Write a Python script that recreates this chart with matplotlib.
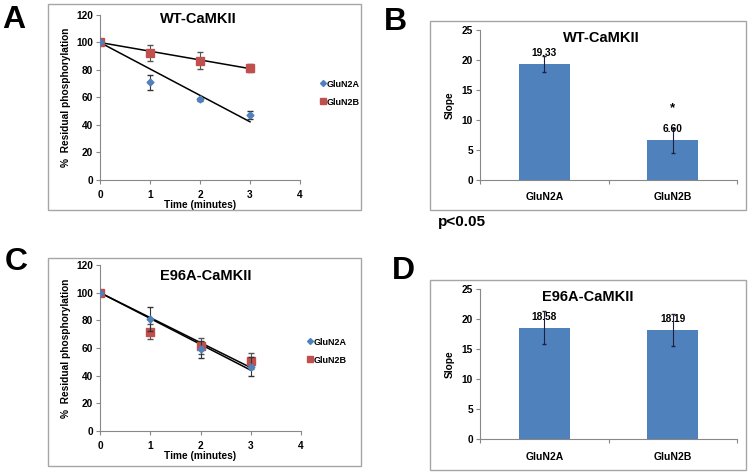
import matplotlib
matplotlib.use('Agg')
import matplotlib.pyplot as plt
import numpy as np
from matplotlib.patches import Rectangle
from matplotlib.lines import Line2D

plt.rcParams['font.family'] = ['Liberation Sans', 'DejaVu Sans']
plt.rcParams['font.weight'] = 'bold'

# %% data
time = [0, 1, 2, 3]
series = ['GluN2A', 'GluN2B']

# WT-CaMKII residual phosphorylation (%)
wt_2a = [100, 71, 58.7, 47.5]
wt_2a_err = [0, 5.5, 1, 3]
wt_2b = [100, 92.6, 86.8, 81.7]
wt_2b_err = [0, 5.8, 6.3, 3]

# E96A-CaMKII residual phosphorylation (%)
e96_2a = [100, 81, 59, 46.5]
e96_2a_err = [0, 8.5, 6, 6.7]
e96_2b = [100, 71.8, 61.5, 50.8]
e96_2b_err = [0, 5.5, 5.5, 5.8]

# slopes
wt_slope = [19.33, 6.60]
wt_slope_err = [1.3, 2.1]
e96_slope = [18.58, 18.19]
e96_slope_err = [2.8, 2.7]

blue = '#4F81BD'
red = '#C0504D'
W, H = 750, 473

fig = plt.figure(figsize=(7.5, 4.73), dpi=100)


def px_axes(l, t, r, b):
    return fig.add_axes([l / W, 1 - b / H, (r - l) / W, (b - t) / H])


def frame(l, t, r, b):
    fig.patches.append(Rectangle((l / W, 1 - b / H), (r - l) / W, (b - t) / H,
                                 transform=fig.transFigure, fill=False,
                                 edgecolor='#a6a6a6', linewidth=1.0, zorder=0))


def style_axes(ax):
    for s in ['top', 'right']:
        ax.spines[s].set_visible(False)
    for s in ['left', 'bottom']:
        ax.spines[s].set_color('#888888')
        ax.spines[s].set_linewidth(0.8)
    ax.tick_params(which='both', color='#888888', length=3, width=0.8,
                   labelsize=7.3, pad=2)
    for lab in ax.get_xticklabels() + ax.get_yticklabels():
        lab.set_fontweight('bold')


def line_panel(ax, a, a_err, b, b_err, title_xy, title, legend_xy):
    t = np.array(time)
    for y in [a, b]:
        # linear trend with intercept fixed at 100
        k = np.sum(t * (np.array(y) - 100)) / np.sum(t * t)
        ax.plot(t, 100 + k * t, color='black', linewidth=1.1, zorder=2)
    ax.errorbar(time, b, yerr=b_err, fmt='s', color=red, ms=5.5,
                ecolor='#555555', elinewidth=0.8, capsize=2, zorder=3)
    ax.errorbar(time, a, yerr=a_err, fmt='D', color=blue, ms=3.5,
                ecolor='#333333', elinewidth=0.8, capsize=2, zorder=4)
    ax.set_xlim(0, 4)
    ax.set_ylim(0, 120)
    ax.set_xticks([0, 1, 2, 3, 4])
    ax.set_yticks(range(0, 121, 20))
    ax.tick_params(axis='x', direction='out')
    ax.set_xlabel('Time (minutes)', fontsize=7.3, fontweight='bold', labelpad=0)
    ax.set_ylabel('%  Residual phosphorylation', fontsize=7.3,
                  fontweight='bold', labelpad=4)
    style_axes(ax)
    ax.tick_params(axis='x', pad=4)
    fig.text(title_xy[0] / W, 1 - title_xy[1] / H, title, fontsize=10.5,
             fontweight='bold', ha='center', va='center')
    handles = [Line2D([], [], marker='D', color=blue, ls='none', ms=3),
               Line2D([], [], marker='s', color=red, ls='none', ms=5)]
    fig.legend(handles, series, loc='upper left', frameon=False,
               bbox_to_anchor=(legend_xy[0] / W, 1 - legend_xy[1] / H),
               prop={'size': 6.5, 'weight': 'bold'}, handlelength=0.6,
               handletextpad=0.1, labelspacing=1.0, borderpad=0)


def bar_panel(ax, vals, errs, title_xy, title, star=False):
    x = np.arange(len(series))
    ax.bar(x, vals, width=0.4, color=blue, zorder=2)
    ax.errorbar(x, vals, yerr=errs, fmt='none', ecolor='#1f1f3f',
                elinewidth=0.8, capsize=1.5, zorder=3)
    for xi, v, e in zip(x, vals, errs):
        ax.text(xi, v + 1.0, f'{v:.2f}', ha='center', va='bottom',
                fontsize=7.3, fontweight='bold')
    if star:
        ax.text(x[1], 11.0, '*', ha='center', va='bottom', fontsize=9.5,
                fontweight='bold')
    ax.set_xlim(-0.5, 1.5)
    ax.set_ylim(0, 25)
    ax.set_yticks(range(0, 26, 5))
    ax.set_xticks(x)
    ax.set_xticklabels(series)
    ax.set_xticks([-0.5, 0.5, 1.5], minor=True)
    ax.set_ylabel('Slope', fontsize=7.3, fontweight='bold', labelpad=5)
    style_axes(ax)
    ax.tick_params(axis='x', which='major', length=0, pad=9, labelsize=7.5)
    ax.tick_params(axis='x', which='minor', length=3)
    fig.text(title_xy[0] / W, 1 - title_xy[1] / H, title, fontsize=10.5,
             fontweight='bold', ha='center', va='center')


# %% frames
frame(48, 4, 361, 210)
frame(430, 21, 746, 210)
frame(48, 258, 361, 466)
frame(430, 280, 746, 470)

# %% panels
axA = px_axes(100, 15, 300, 180)
line_panel(axA, wt_2a, wt_2a_err, wt_2b, wt_2b_err, (198, 19), 'WT-CaMKII', (316, 75))

axB = px_axes(480, 30, 737, 180)
bar_panel(axB, wt_slope, wt_slope_err, (601, 38), 'WT-CaMKII', star=True)

axC = px_axes(100, 265, 301, 431)
line_panel(axC, e96_2a, e96_2a_err, e96_2b, e96_2b_err, (206, 276), 'E96A-CaMKII', (303, 333))

axD = px_axes(480, 289, 737, 439)
bar_panel(axD, e96_slope, e96_slope_err, (588, 297), 'E96A-CaMKII')

# %% letters and note
for lab, x, y in [('A', 2, 20), ('B', 384, 22), ('C', 5, 262), ('D', 392, 271)]:
    fig.text(x / W, 1 - y / H, lab, fontsize=23, fontweight='bold',
             ha='left', va='center')
fig.text(438 / W, 1 - 222 / H, 'p<0.05', fontsize=11, fontweight='bold',
         ha='left', va='center')

plt.savefig('out.png', dpi=100)
